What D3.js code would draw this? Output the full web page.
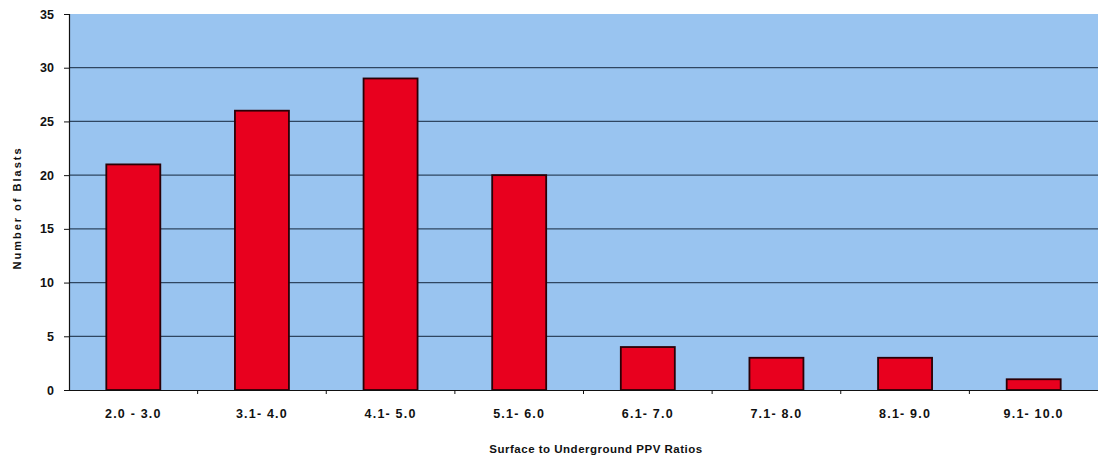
<!DOCTYPE html>
<html><head><meta charset="utf-8">
<script src="https://cdn.jsdelivr.net/npm/d3@7"></script>
<style>
html,body{margin:0;padding:0;background:#fff;}
text{font-family:"Liberation Sans",Arial,sans-serif;font-weight:bold;fill:#111;}
</style></head>
<body><svg id="chart" width="1098" height="459"></svg>
<script>
const categories = ["2.0 - 3.0","3.1- 4.0","4.1- 5.0","5.1- 6.0","6.1- 7.0","7.1- 8.0","8.1- 9.0","9.1- 10.0"];
const blasts = [21, 26, 29, 20, 4, 3, 3, 1];
const yTicks = [0, 5, 10, 15, 20, 25, 30, 35];
const xTitle = "Surface to Underground PPV Ratios";
const yTitle = "Number of Blasts";

const svg = d3.select("#chart");
const m = {l:69, t:14, r:0, b:69};
const W = 1098, H = 459;
const iw = W - m.l - m.r, ih = H - m.t - m.b;

const xb = d3.scaleBand().domain(categories).range([0, iw]);
const y = d3.scaleLinear().domain([0, 35]).range([ih, 0]);

const g = svg.append("g").attr("transform", `translate(${m.l},${m.t})`);
g.append("rect").attr("x",0).attr("y",0).attr("width",iw).attr("height",ih).attr("fill","#99c4f0");

// gridlines
g.append("g").selectAll("line").data(yTicks.filter(d=>d>0 && d<35)).join("line")
  .attr("x1",0).attr("x2",iw).attr("y1",d=>y(d)).attr("y2",d=>y(d))
  .attr("stroke","#2f4661").attr("stroke-width",1.2);

// bars
g.append("g").selectAll("rect").data(blasts).join("rect")
  .attr("x",(d,i)=>xb(categories[i]) + xb.bandwidth()/2 - 27)
  .attr("width",54)
  .attr("y",d=>y(d)).attr("height",d=>ih - y(d))
  .attr("fill","#e8001e").attr("stroke","#2a0006").attr("stroke-width",1.8);

// y axis
const ya = g.append("g").call(d3.axisLeft(y).tickValues(yTicks).tickSize(5).tickPadding(10));
ya.select(".domain").attr("stroke","#111").attr("stroke-width",1.2);
ya.selectAll("line").attr("stroke","#111");
ya.selectAll("text").attr("font-size",12.5).attr("font-family","Liberation Sans, Arial, sans-serif").attr("font-weight","bold").attr("fill","#111");

// x axis
const xa = g.append("g").attr("transform",`translate(0,${ih})`)
  .call(d3.axisBottom(xb).tickSize(0).tickPadding(19));
xa.select(".domain").attr("stroke","#111").attr("stroke-width",1.2);
xa.selectAll("text").attr("font-size",12.5).attr("font-family","Liberation Sans, Arial, sans-serif").attr("font-weight","bold").attr("fill","#111").attr("letter-spacing","1.2px");
// tick marks between categories
xa.append("g").selectAll("line").data(categories.slice(1)).join("line")
  .attr("x1",d=>xb(d)).attr("x2",d=>xb(d)).attr("y1",0).attr("y2",4).attr("stroke","#111");

// titles
svg.append("text").attr("x", 596).attr("y", 453).attr("text-anchor","middle")
  .attr("font-size",11.5).attr("letter-spacing","0.5px").text(xTitle);
svg.append("text").attr("transform",`translate(21,208) rotate(-90)`).attr("text-anchor","middle")
  .attr("font-size",11).attr("font-weight","900").attr("letter-spacing","2px").text(yTitle);
</script></body></html>
